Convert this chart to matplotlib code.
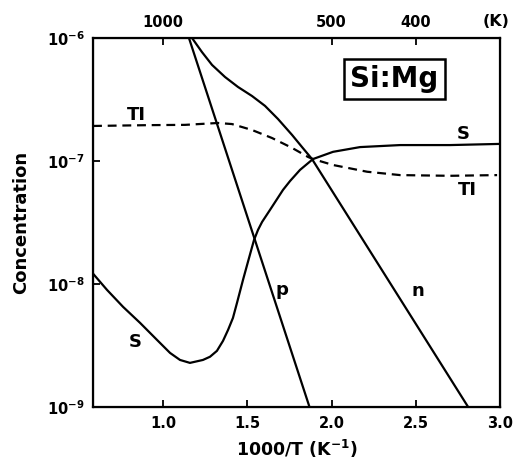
import numpy as np
import matplotlib
matplotlib.use('Agg')
import matplotlib.pyplot as plt

plt.rcParams['font.family'] = ['DejaVu Sans']
plt.rcParams['font.weight'] = 'bold'
plt.rcParams['mathtext.default'] = 'bf'

# 曲线数据
ti_x = [0.585, 0.923, 1.131, 1.326, 1.409, 1.528, 1.647, 1.766, 1.861, 1.890, 2.009, 2.211, 2.407, 2.703, 2.982]
ti_y = [1.93e-7, 1.96e-7, 1.97e-7, 2.04e-7, 2.00e-7, 1.79e-7, 1.54e-7, 1.28e-7, 1.08e-7, 1.04e-7, 9.3e-8, 8.2e-8, 7.7e-8, 7.6e-8, 7.7e-8]

s_x = [0.585, 0.668, 0.763, 0.864, 0.964, 1.042, 1.101, 1.160, 1.237, 1.279, 1.320, 1.356, 1.386, 1.415, 1.439,
       1.475, 1.504, 1.540, 1.564, 1.588, 1.635, 1.712, 1.754, 1.813, 1.890, 2.009, 2.169, 2.407, 2.703, 3.0]
s_y = [1.22e-8, 9.0e-9, 6.56e-9, 4.86e-9, 3.54e-9, 2.77e-9, 2.43e-9, 2.30e-9, 2.43e-9, 2.58e-9, 2.88e-9, 3.47e-9, 4.26e-9, 5.33e-9, 7.06e-9,
       1.09e-8, 1.52e-8, 2.29e-8, 2.77e-8, 3.21e-8, 4.02e-8, 5.84e-8, 6.9e-8, 8.49e-8, 1.04e-7, 1.19e-7, 1.30e-7, 1.35e-7, 1.35e-7, 1.38e-7]

p_x = [1.154, 1.870]
p_y = [1e-6, 1e-9]

n_x = [1.172, 1.231, 1.291, 1.368, 1.445, 1.528, 1.605, 1.682, 1.766, 1.825, 1.884, 2.812]
n_y = [1e-6, 7.69e-7, 6.04e-7, 4.82e-7, 4.00e-7, 3.38e-7, 2.81e-7, 2.20e-7, 1.63e-7, 1.30e-7, 1.04e-7, 1e-9]

x_ticks = [1.0, 1.5, 2.0, 2.5, 3.0]
x_ticklabels = ['1.0', '1.5', '2.0', '2.5', '3.0']
y_ticks = [1e-9, 1e-8, 1e-7, 1e-6]
y_ticklabels = [r'$10^{-9}$', r'$10^{-8}$', r'$10^{-7}$', r'$10^{-6}$']
temps = [1000, 500, 400]

fig = plt.figure(figsize=(5.14, 4.63), dpi=100)
ax = fig.add_axes([0.181, 0.120, 0.792, 0.798])

lw = 1.6
ax.plot(ti_x, ti_y, color='black', lw=lw, ls=(0, (4, 2.6)))
ax.plot(s_x, s_y, color='black', lw=lw, solid_joinstyle='round')
ax.plot(p_x, p_y, color='black', lw=lw)
ax.plot(n_x, n_y, color='black', lw=lw, solid_joinstyle='round')

ax.set_yscale('log')
ax.set_xlim(0.585, 3.0)
ax.set_ylim(1e-9, 1e-6)
ax.set_xticks(x_ticks)
ax.set_xticklabels(x_ticklabels)
ax.set_yticks(y_ticks)
ax.set_yticklabels(y_ticklabels)
ax.minorticks_off()
ax.tick_params(axis='x', direction='in', length=5, width=1.3, pad=6, labelsize=10.5)
ax.tick_params(axis='y', direction='in', length=5, width=1.3, pad=6, labelsize=10.5)
for sp in ax.spines.values():
    sp.set_linewidth(1.6)

ax.set_xlabel(r'1000/T (K$^{-1}$)', fontsize=12.5, fontweight='bold', labelpad=5)
ax.set_ylabel('Concentration', fontsize=13, fontweight='bold', labelpad=12)

# 顶部温度轴
ax2 = ax.twiny()
ax2.set_xlim(ax.get_xlim())
ax2.set_xticks([1000 / t for t in temps])
ax2.set_xticklabels([str(t) for t in temps])
ax2.tick_params(axis='x', direction='in', length=5, width=1.3, pad=6, labelsize=10.5)
ax2.text(0.99, 1.025, '(K)', transform=ax2.transAxes, ha='center', va='bottom', fontsize=11.5, fontweight='bold')

# 曲线标注
ax.text(0.840, 2.37e-7, 'TI', fontsize=13, ha='center', va='center')
ax.text(2.804, 5.83e-8, 'TI', fontsize=13, ha='center', va='center')
ax.text(2.780, 1.66e-7, 'S', fontsize=13, ha='center', va='center')
ax.text(0.834, 3.40e-9, 'S', fontsize=13, ha='center', va='center')
ax.text(1.706, 9.0e-9, 'p', fontsize=13, ha='center', va='center')
ax.text(2.513, 8.8e-9, 'n', fontsize=13, ha='center', va='center')

ax.text(0.740, 0.889, 'Si:Mg', transform=ax.transAxes, fontsize=20, fontweight='bold',
        ha='center', va='center',
        bbox=dict(boxstyle='square,pad=0.22', fc='white', ec='black', lw=1.8))

fig.savefig('out.png', dpi=100)
